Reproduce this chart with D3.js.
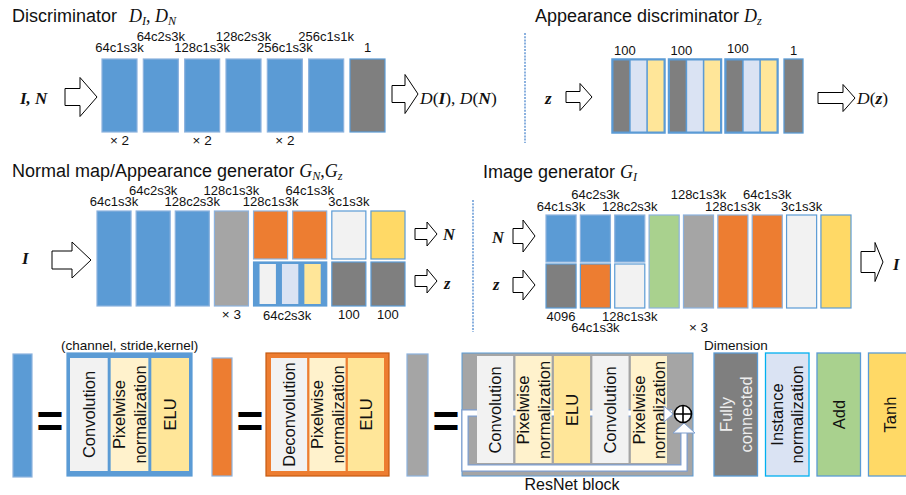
<!DOCTYPE html>
<html><head><meta charset="utf-8">
<script src="https://cdn.jsdelivr.net/npm/d3@7"></script>
<style>body{margin:0;background:#fff} svg{display:block}</style>
</head><body><svg id="c" width="906" height="495"></svg>
<script>
// ---------- data ----------
const COLORS = {conv:"#5b9bd5", deconv:"#ed7d31", res:"#a5a5a5", fc:"#7f7f7f", inorm:"#dae3f3",
  add:"#a9d18e", tanh:"#ffd966", plain:"#f2f2f2", pix:"#fff2cc", elu:"#ffe699"};

const discLabels  = ["64c1s3k","64c2s3k","128c1s3k","128c2s3k","256c1s3k","256c1s1k","1"];
const discKinds   = ["conv","conv","conv","conv","conv","conv","fc"];
const discRepeats = ["× 2","","× 2","","× 2","",""];

const appLabels     = ["100","100","100"];
const appBlockParts = ["fc","inorm","elu"];
const appLastLabel  = "1";

const gnLabels      = ["64c1s3k","64c2s3k","128c2s3k","128c1s3k","128c1s3k","64c1s3k","3c1s3k",""];
const gnFullKinds   = ["conv","conv","conv","res"];
const gnTopKinds    = ["deconv","deconv","plain","tanh"];
const gnBlockParts  = ["plain","inorm","elu"];
const gnBlockLabel  = "64c2s3k";
const gnBottomKinds = ["fc","fc"];
const gnBottomLabels= ["100","100"];
const gnRepeat      = "× 3";

const giTopKinds    = ["conv","conv","conv"];
const giBottomKinds = ["fc","deconv","plain"];
const giFullKinds   = ["add","res","deconv","deconv","plain","tanh"];
const giTopLabels   = ["64c1s3k","64c2s3k","128c2s3k","","128c1s3k","128c1s3k","64c1s3k","3c1s3k",""];
const giBottomLabels= ["4096","64c1s3k","128c1s3k","","× 3","","","",""];

const legConvParts   = [["Convolution"],["Pixelwise","normalization"],["ELU"]];
const legDeconvParts = [["Deconvolution"],["Pixelwise","normalization"],["ELU"]];
const legResParts    = [["Convolution"],["Pixelwise","normalization"],["ELU"],["Convolution"],["Pixelwise","normalization"]];
const legSingles     = [["fc",["Fully","connected"]],["inorm",["Instance","normalization"]],["add",["Add"]],["tanh",["Tanh"]]];

// ---------- helpers ----------
const SANS = "Arial, 'Liberation Sans', sans-serif";
const SERIF = "'Times New Roman', 'Liberation Serif', serif";
const STROKE = "#8cb2de";
const LBL = 13;
const svg = d3.select("#c");

function partKind(lines){ const s=lines[0]; return s.startsWith("Pixel")?"pix":(s==="ELU"?"elu":"plain"); }
function box(g,x,y,w,h,fill,stroke=STROKE,sw=1.2){
  return g.append("rect").attr("x",x).attr("y",y).attr("width",w).attr("height",h)
    .attr("fill",fill).attr("stroke",stroke).attr("stroke-width",sw);
}
function txt(g,x,y,s,size,anchor="middle",fill="#111",weight="normal"){
  return g.append("text").attr("x",x).attr("y",y).attr("font-family",SANS).attr("font-size",size)
    .attr("text-anchor",anchor).attr("fill",fill).attr("font-weight",weight).text(s);
}
function arrow(g,x0,x1,cy,hh,bh,hx){
  const pts=[[x0,cy-bh/2],[hx,cy-bh/2],[hx,cy-hh/2],[x1,cy],[hx,cy+hh/2],[hx,cy+bh/2],[x0,cy+bh/2]];
  g.append("polygon").attr("points",pts.map(p=>p.join(",")).join(" "))
    .attr("fill","#fff").attr("stroke","#000").attr("stroke-width",1);
}
function rich(g,x,y,size,pieces){
  const t=g.append("text").attr("x",x).attr("y",y).attr("font-size",size).attr("fill","#111");
  let shift=0;
  pieces.forEach(([s,st,dx])=>{
    const ts=t.append("tspan").text(s);
    const sub=st.includes("s");
    const d=sub?size*0.14:0;
    if(d-shift!==0) ts.attr("dy",d-shift);
    shift=d;
    if(dx) ts.attr("dx",dx);
    ts.attr("font-family",st.includes("a")?SANS:SERIF);
    if(sub) ts.attr("font-size",size*0.68);
    if(st.includes("i")||st.includes("b")) ts.attr("font-style","italic");
    if(st.includes("b")) ts.attr("font-weight","bold");
  });
}
function vtext(g,cx,cy,lines,size,fill="#111"){
  const t=g.append("text").attr("transform",`translate(${cx},${cy}) rotate(-90)`)
    .attr("text-anchor","middle").attr("font-family",SANS).attr("font-size",size).attr("fill",fill);
  const n=lines.length;
  lines.forEach((l,i)=>t.append("tspan").attr("x",0).attr("y",(i-(n-1)/2)*size*1.22+size*0.36).text(l));
}
function stagger(labels,low,high){ let k=0; return labels.map(l=> l? ((k++)%2?high:low) : null); }
function dashed(x,y0,y1){
  svg.append("line").attr("x1",x).attr("x2",x).attr("y1",y0).attr("y2",y1)
    .attr("stroke","#7fa9dc").attr("stroke-width",1.8).attr("stroke-dasharray","2,1.2");
}

// ---------- 1. Discriminator ----------
{
  const g=svg.append("g");
  rich(g,12,22,18,[["Discriminator","a"],["D","i",12],["I","si"],[", ","r"],["D","i"],["N","si"]]);
  const x=d3.scaleBand().domain(d3.range(discKinds.length)).range([102,385]).paddingInner(0.153);
  const y=d3.scaleLinear().domain([0,1]).range([59,132]);
  discKinds.forEach((k,i)=>box(g,x(i),y(0),x.bandwidth(),y(1)-y(0),COLORS[k],k==="fc"?"#5b9bd5":STROKE));
  const ly=stagger(discLabels,52,41);
  discLabels.forEach((l,i)=>txt(g,x(i)+x.bandwidth()/2,ly[i],l,LBL));
  discRepeats.forEach((l,i)=>{ if(l) txt(g,x(i)+x.bandwidth()/2,145,l,13.5); });
  rich(g,20,104,17,[["I, N","b"]]);
  arrow(g,65,97,97,39,17,80);
  arrow(g,392,418,94,39,17,405);
  rich(g,420,104,17.5,[["D","i"],["(","r"],["I","b"],["), ","r"],["D","i"],["(","r"],["N","b"],[")","r"]]);
}

// ---------- 2. Appearance discriminator ----------
{
  const g=svg.append("g");
  dashed(525,33,143);
  rich(g,535,22,18,[["Appearance discriminator ","a"],["D","i"],["z","si"]]);
  rich(g,545,104,17,[["z","b"]]);
  arrow(g,566,592,97,27,11,580);
  const x=d3.scaleBand().domain(d3.range(appLabels.length)).range([612,778]).paddingInner(0.062);
  const y=d3.scaleLinear().domain([0,1]).range([59,133]);
  appLabels.forEach((l,i)=>{
    box(g,x(i),y(0),x.bandwidth(),y(1)-y(0),COLORS.conv,"#5b9bd5",1.5);
    const xs=d3.scaleBand().domain(d3.range(appBlockParts.length)).range([x(i)+1.5,x(i)+x.bandwidth()-1.5]).paddingInner(0.09);
    appBlockParts.forEach((p,j)=>g.append("rect").attr("x",xs(j)).attr("y",y(0)+1.5).attr("width",xs.bandwidth())
      .attr("height",y(1)-y(0)-3).attr("fill",COLORS[p]));
    txt(g,x(i)+2,i===2?53:55,l,LBL,"start");
  });
  const gx=x.range()[1]+6;
  box(g,gx,y(0),19,y(1)-y(0),COLORS.fc,"#5b9bd5",1.3);
  txt(g,gx+9.5,55,appLastLabel,LBL);
  arrow(g,818,855,98,27,11,843);
  rich(g,857,104,17.5,[["D","i"],["(","r"],["z","b"],[")","r"]]);
}

// ---------- 3. Normal map / Appearance generator ----------
{
  const g=svg.append("g");
  rich(g,12,177,18,[["Normal map/Appearance generator ","a"],["G","i"],["N","si"],[",","r"],["G","i"],["z","si"]]);
  const nCols=gnFullKinds.length+gnTopKinds.length;
  const x=d3.scaleBand().domain(d3.range(nCols)).range([97,405]).paddingInner(0.13);
  const bw=x.bandwidth();
  const y=d3.scaleLinear().domain([0,1]).range([211,306]);
  const ySplitTop=259, ySplitBot=262;
  gnFullKinds.forEach((k,i)=>box(g,x(i),y(0),bw,y(1)-y(0),COLORS[k]));
  gnTopKinds.forEach((k,j)=>{const i=j+gnFullKinds.length;
    box(g,x(i),y(0),bw,ySplitTop-y(0),COLORS[k],(k==="plain"||k==="tanh")?"#5b9bd5":STROKE);});
  const c0=gnFullKinds.length, bx=x(c0), bwid=x(c0+1)+bw-bx;
  box(g,bx,ySplitBot,bwid,y(1)-ySplitBot,COLORS.conv,"#5b9bd5",1.2);
  const xs=d3.scaleBand().domain(d3.range(gnBlockParts.length)).range([bx+6,bx+bwid-6]).paddingInner(0.27);
  gnBlockParts.forEach((p,j)=>g.append("rect").attr("x",xs(j)).attr("y",ySplitBot+2).attr("width",xs.bandwidth())
    .attr("height",y(1)-ySplitBot-4).attr("fill",COLORS[p]));
  txt(g,bx+bwid/2-3,320,gnBlockLabel,LBL);
  gnBottomKinds.forEach((k,j)=>{const i=c0+2+j;
    box(g,x(i),ySplitBot,bw,y(1)-ySplitBot,COLORS[k],"#5b9bd5");
    txt(g,x(i)+bw/2,319,gnBottomLabels[j],LBL);});
  txt(g,x(c0-1)+bw/2,319,gnRepeat,13.5);
  const ly=stagger(gnLabels,206,195);
  gnLabels.forEach((l,i)=>{ if(l) txt(g,x(i)+bw/2,ly[i],l,LBL); });
  rich(g,22,264,17,[["I","b"]]);
  arrow(g,52,91,260,36,18,72);
  arrow(g,415,437,234,24,11,427);
  arrow(g,415,437,281,24,11,427);
  rich(g,443,240,16.5,[["N","b"]]);
  rich(g,444,289,16.5,[["z","b"]]);
}

// ---------- 4. Image generator ----------
{
  const g=svg.append("g");
  dashed(473,200,332);
  rich(g,483,178,18,[["Image generator ","a"],["G","i"],["I","si"]]);
  const nCols=giTopKinds.length+giFullKinds.length;
  const x=d3.scaleBand().domain(d3.range(nCols)).range([546,851]).paddingInner(0.125);
  const bw=x.bandwidth();
  const y=d3.scaleLinear().domain([0,1]).range([215,308]);
  const ySplitTop=262, ySplitBot=264;
  giTopKinds.forEach((k,i)=>box(g,x(i),y(0),bw,ySplitTop-y(0),COLORS[k]));
  giBottomKinds.forEach((k,i)=>box(g,x(i),ySplitBot,bw,y(1)-ySplitBot,COLORS[k],k==="conv"?STROKE:"#5b9bd5"));
  giFullKinds.forEach((k,j)=>{const i=j+giTopKinds.length;
    box(g,x(i),y(0),bw,y(1)-y(0),COLORS[k],(k==="plain"||k==="tanh")?"#5b9bd5":STROKE);});
  const ly=stagger(giTopLabels,211,199);
  giTopLabels.forEach((l,i)=>{ if(l) txt(g,x(i)+bw/2,ly[i],l,LBL); });
  const by=stagger(giBottomLabels,321,332);
  giBottomLabels.forEach((l,i)=>{ if(l) txt(g,x(i)+bw/2,by[i],l,l.startsWith("×")?13.5:LBL); });
  rich(g,492,243,16.5,[["N","b"]]);
  rich(g,493,290,16.5,[["z","b"]]);
  arrow(g,513,535,236,32,15,523);
  arrow(g,513,535,285,30,15,523);
  arrow(g,861,883,262,39,21,875);
  rich(g,893,270,16.5,[["I","b"]]);
}

// ---------- 5. Legend ----------
{
  const g=svg.append("g");
  const y=d3.scaleLinear().domain([0,1]).range([353,476]);
  const VT=16.5;
  function eq(cx){ txt(g,cx,437,"=",46,"middle","#000","bold"); }
  function composite(x0,x1,parts,frame,stroke,inset,pad,ys0,ys1){
    box(g,x0,y(0),x1-x0,y(1)-y(0),frame,stroke,1.2);
    const xs=d3.scaleBand().domain(d3.range(parts.length)).range([x0+inset,x1-inset]).paddingInner(pad);
    parts.forEach((lines,j)=>{
      g.append("rect").attr("x",xs(j)).attr("y",ys0).attr("width",xs.bandwidth()).attr("height",ys1-ys0).attr("fill",COLORS[partKind(lines)]);
    });
    return xs;
  }
  function partTexts(xs,parts,ys0,ys1){
    parts.forEach((lines,j)=>vtext(g,xs(j)+xs.bandwidth()/2,(ys0+ys1)/2,lines,VT));
  }
  box(g,13,354,19,123,COLORS.conv);
  eq(50);
  txt(g,61,350,"(channel, stride,kernel)",13.5,"start");
  let xs=composite(67,192,legConvParts,COLORS.conv,"#5b9bd5",3,0.073,358,471);
  partTexts(xs,legConvParts,358,471);
  box(g,212,358,20,118,COLORS.deconv);
  eq(250);
  xs=composite(266,389,legDeconvParts,COLORS.deconv,"#c55a11",5,0.06,358,471);
  partTexts(xs,legDeconvParts,358,471);
  box(g,407,354,21,122,COLORS.res);
  eq(446);
  box(g,462,y(0),231,y(1)-y(0),COLORS.res,"#5b9bd5",1);
  const skip="M672,413 H465 V468 H684 V432";
  g.append("path").attr("d",skip).attr("fill","none").attr("stroke","#7f9fcf").attr("stroke-width",7.5);
  g.append("path").attr("d",skip).attr("fill","none").attr("stroke","#fff").attr("stroke-width",5);
  const rx=d3.scaleBand().domain(d3.range(legResParts.length)).range([477,667]).paddingInner(0.06);
  legResParts.forEach((lines,j)=>g.append("rect").attr("x",rx(j)).attr("y",356).attr("width",rx.bandwidth()).attr("height",107).attr("fill",COLORS[partKind(lines)]));
  legResParts.forEach((lines,j)=>vtext(g,rx(j)+rx.bandwidth()/2,410,lines,VT));
  g.append("polygon").attr("points","664,406 673,414 664,422").attr("fill","#fff").attr("stroke","#7f9fcf").attr("stroke-width",1);
  g.append("polygon").attr("points","673,433 684,423 695,433").attr("fill","#fff").attr("stroke","#7f9fcf").attr("stroke-width",1);
  g.append("circle").attr("cx",683).attr("cy",414).attr("r",8.5).attr("fill","#fff").attr("stroke","#000").attr("stroke-width",1.6);
  g.append("path").attr("d","M674.5,414 H691.5 M683,405.5 V422.5").attr("stroke","#000").attr("stroke-width",1.6);
  txt(g,572,490,"ResNet block",16);
  txt(g,704,350,"Dimension",13.5,"start");
  const sx=d3.scaleBand().domain(d3.range(legSingles.length)).range([714,912]).paddingInner(0.155);
  legSingles.forEach(([k,lines],i)=>{
    box(g,sx(i),y(0),sx.bandwidth(),y(1)-y(0),COLORS[k],k==="inorm"?"#00b0f0":"#5b9bd5",1.3);
    vtext(g,sx(i)+sx.bandwidth()/2,(y(0)+y(1))/2,lines,VT,k==="fc"?"#eeeeee":"#111");
  });
}
</script></body></html>
